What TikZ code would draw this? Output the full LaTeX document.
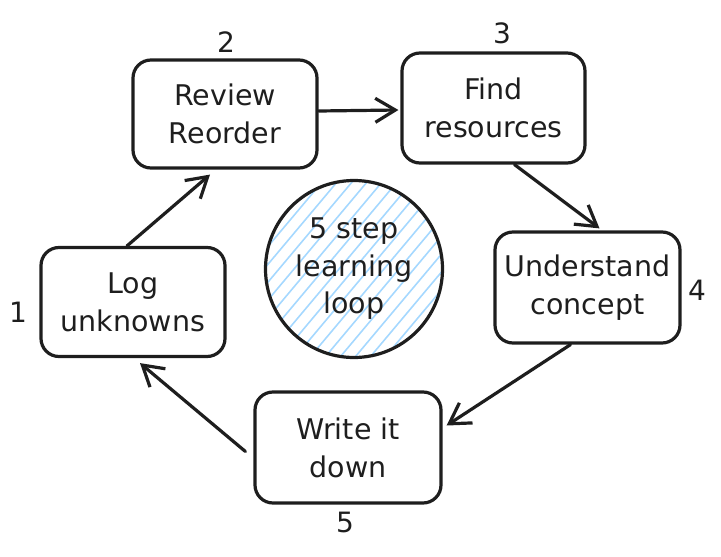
\documentclass[tikz,border=0pt]{standalone}
\usepackage{fontspec}
\setmainfont{DejaVu Sans}
\usetikzlibrary{arrows.meta}
\definecolor{ink}{HTML}{1E1E1E}
\definecolor{hatchblue}{HTML}{A5D8FF}
\tikzset{
  stepbox/.style={draw=ink, line width=3.2pt, rounded corners=18pt, minimum width=184pt, minimum height=109pt, inner sep=0pt, align=center, font=\fontsize{28.5}{38}\selectfont, text=ink},
  numlabel/.style={font=\fontsize{28}{30}\selectfont, text=ink, inner sep=0pt},
  flow/.style={draw=ink, line width=3.2pt, line cap=round, -{Straight Barb[length=20pt, width=24pt, line width=3.2pt]}},
  hatchline/.style={draw=hatchblue, line width=1.6pt},
}
\begin{document}
\begin{tikzpicture}[x=1pt, y=-1pt]
\useasboundingbox (0,0) rectangle (721,557);
% boxes
\node[stepbox, minimum width=184pt, minimum height=109pt] (b1) at (133,302) {Log\\unknowns};
\node[stepbox, minimum width=184pt, minimum height=108pt] (b2) at (225,114) {Review\\Reorder};
\node[stepbox, minimum width=183pt, minimum height=110pt] (b3) at (493.5,108) {Find\\resources};
\node[stepbox, minimum width=185pt, minimum height=111pt] (b4) at (587.5,287.5) {Understand\\concept};
\node[stepbox, minimum width=186pt, minimum height=111pt] (b5) at (348,447.5) {Write it\\down};
% centre circle
\node[circle, draw=ink, line width=3.2pt, minimum size=177pt, inner sep=0pt, align=center,
  font=\fontsize{28.5}{37.5}\selectfont, text=ink,
  path picture={
    \foreach \i in {-10,...,10}{
      \draw[hatchline] ([xshift=\i*15pt]path picture bounding box.center) ++(-110pt,-131pt) -- ++(220pt,262pt);
    }
  }] (loop) at (354,269) {5 step\\learning\\loop};
% number labels
\node[numlabel] (l1) at (18,312) {1};
\node[numlabel] (l2) at (226,42) {2};
\node[numlabel] (l3) at (502,33) {3};
\node[numlabel] (l4) at (697,290) {4};
\node[numlabel] (l5) at (345,522) {5};
% connectors
\draw[flow] ([xshift=-6pt]b1.north) -- ([xshift=-15pt,yshift=-5pt]b2.south);
\draw[flow] ([yshift=3pt]b2.east) -- ([xshift=-2pt,yshift=-2pt]b3.west);
\draw[flow] ([xshift=21pt]b3.south) -- ([xshift=12pt,yshift=2pt]b4.north);
\draw[flow] ([xshift=-17pt]b4.south) -- ([xshift=4pt,yshift=22pt]b5.east);
\draw[flow] ([xshift=-8pt,yshift=-4pt]b5.west) -- ([xshift=7pt,yshift=-5pt]b1.south);
\end{tikzpicture}
\end{document}
